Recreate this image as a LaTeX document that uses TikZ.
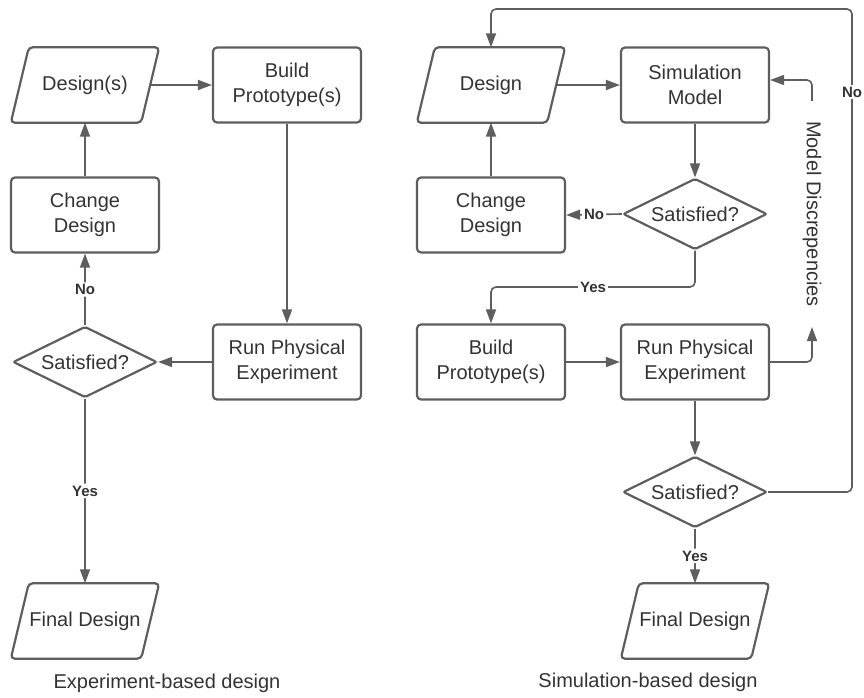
\documentclass[tikz,border=0pt]{standalone}
\usepackage{fontspec}
\setmainfont{Liberation Sans}
\usetikzlibrary{shapes.geometric,arrows.meta}
\definecolor{lc}{HTML}{5E5E5E}
\definecolor{tc}{HTML}{333333}
\begin{document}
\begin{tikzpicture}[x=1pt, y=-1pt,
  txt/.style={text=tc, font=\fontsize{20}{25}\selectfont, align=center, inner sep=0pt},
  boxline/.style={draw=lc, line width=2.2pt, rounded corners=4pt},
  box/.style={txt, boxline, minimum width=148pt, minimum height=75pt},
  para/.style={txt, minimum width=130pt, minimum height=75pt},
  dec/.style={txt, diamond, aspect=2, draw=lc, line width=2.2pt, rounded corners=2pt, minimum width=144pt, minimum height=71pt},
  arr/.style={draw=lc, line width=1.6pt, rounded corners=5pt, -{Triangle[length=14pt,width=10pt]}},
  lbl/.style={fill=white, text=tc, font=\fontsize{15}{18}\selectfont\bfseries, inner sep=2pt},
  caption/.style={text=tc, font=\fontsize{20}{24}\selectfont, inner sep=0pt}]
\useasboundingbox (0,0) rectangle (864,698);

% ---- Experiment-based design ----
\node[para] (d1) at (85,85) {Design(s)};
\node[box]  (b1) at (287,85) {Build\\Prototype(s)};
\node[box]  (c1) at (85,215) {Change\\Design};
\node[dec]  (s1) at (85,362) {Satisfied?};
\node[box]  (r1) at (287,362) {Run Physical\\Experiment};
\node[para] (f1) at (85,621) {Final Design};
\node[caption] (cap1) at (167,683) {Experiment-based design};

\draw[arr] (d1.east) -- (b1.west);
\draw[arr] (b1.south) -- (r1.north);
\draw[arr] (r1.west) -- (s1.east);
\draw[arr] (s1.north) -- node[lbl] {No} (c1.south);
\draw[arr] (c1.north) -- (d1.south);
\draw[arr] (s1.south) -- node[lbl] {Yes} (f1.north);

% ---- Simulation-based design ----
\node[para] (d2) at (491,85) {Design};
\node[box]  (m2) at (695,85) {Simulation\\Model};
\node[box]  (c2) at (491,215) {Change\\Design};
\node[dec]  (s2) at (695,214) {Satisfied?};
\node[box]  (b2) at (491,362) {Build\\Prototype(s)};
\node[box]  (r2) at (695,362) {Run Physical\\Experiment};
\node[dec]  (t2) at (695,492) {Satisfied?};
\node[para] (f2) at (695,621) {Final Design};
\node[txt, rotate=-90, inner xsep=20pt] (md) at (812,214) {Model Discrepencies};
\node[caption] (cap2) at (648,682) {Simulation-based design};

\coordinate (yesmid) at (593,287);
\coordinate (loop) at (852,9);

\draw[arr] (d2.east) -- (m2.west);
\draw[arr] (m2.south) -- (s2.north);
\draw[arr] (s2.west) -- node[lbl] {No} (c2.east);
\draw[arr] (c2.north) -- (d2.south);
\draw[arr] (s2.south) |- (yesmid) -| (b2.north);
\node[lbl] at (yesmid) {Yes};
\draw[arr] (b2.east) -- (r2.west);
\draw[arr] (r2.east) -| (md.east);
\draw[arr] (md.west) |- ([yshift=5pt]m2.east);
\draw[arr] (r2.south) -- (t2.north);
\draw[arr] (t2.south) -- node[lbl] {Yes} (f2.north);
\draw[arr] (t2.east) -| (loop) -| (d2.north);
\node[lbl] at (852,92) {No};

% parallelogram outlines around the input/output nodes
\foreach \n in {d1,f1,d2,f2}
  \draw[boxline] ([xshift=9pt]\n.north west) -- ([xshift=9pt]\n.north east)
    -- ([xshift=-9pt]\n.south east) -- ([xshift=-9pt]\n.south west) -- cycle;
\end{tikzpicture}
\end{document}
